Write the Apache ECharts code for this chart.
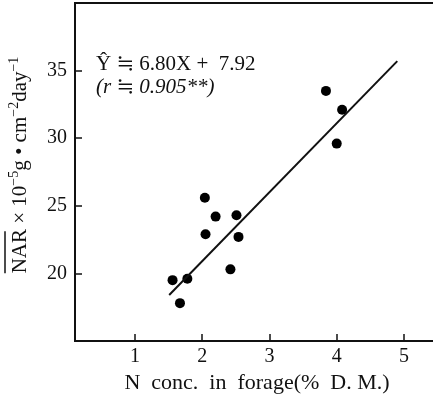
<!DOCTYPE html>
<html>
<head>
<meta charset="utf-8">
<script src="https://cdn.jsdelivr.net/npm/echarts@6/dist/echarts.min.js"></script>
<style>
  html, body { margin: 0; padding: 0; background: #fff; }
  #nar { width: 433px; height: 400px; }
</style>
</head>
<body>
<div id="nar"></div>
<script>
// N concentration in forage (% D.M.) vs mean NAR (x10^-5 g/cm2/day)
var nConc = [1.56, 1.67, 1.78, 2.04, 2.05, 2.20, 2.42, 2.51, 2.54, 3.84, 4.00, 4.08];
var narVal = [19.5, 17.8, 19.6, 25.6, 22.9, 24.2, 20.3, 24.3, 22.7, 33.5, 29.6, 32.1];
// regression line end points as drawn
var fitX = [1.51, 4.90];
var fitY = [18.4, 35.7];
var xTicks = [1, 2, 3, 4, 5];
var yTicks = [20, 25, 30, 35];
var eqLine1 = 'Ŷ ≒ 6.80X +  7.92';
var eqLine2 = '(r ≒ 0.905**)';

var chart = echarts.init(document.getElementById('nar'));
var serif = '"Liberation Serif", "DejaVu Serif", serif';

var points = nConc.map(function (x, i) { return [x, narVal[i]]; });
var fit = fitX.map(function (x, i) { return [x, fitY[i]]; });

var option = {
    animation: false,
    grid: {
        left: 75,
        top: 3,
        right: -6,
        bottom: 59,
        outerBoundsMode: 'none',
        containLabel: false,
        show: true,
        borderColor: '#111',
        borderWidth: 2
    },
    xAxis: {
        type: 'value',
        min: 0.11,
        max: 5.52,
        name: 'N  conc.  in  forage(%  D. M.)',
        nameLocation: 'middle',
        nameGap: 29,
        nameTextStyle: { fontFamily: serif, fontSize: 22, color: '#111' },
        axisLine: { show: false },
        splitLine: { show: false },
        axisTick: {
            inside: true,
            length: 7,
            customValues: xTicks,
            lineStyle: { color: '#111', width: 1.5 }
        },
        axisLabel: {
            customValues: xTicks,
            margin: 6,
            fontFamily: serif,
            fontSize: 20,
            color: '#111'
        }
    },
    yAxis: {
        type: 'value',
        min: 15,
        max: 40,
        name: '{o| }\n{n|NAR × 10}{s|−5}{n|g • cm}{s|−2}{n|day}{s|−1}',
        nameLocation: 'middle',
        nameRotate: 90,
        nameGap: 44,
        nameTextStyle: {
            padding: [0, 0, 0, 14],
            rich: {
                o: { width: 42, height: 1.5, lineHeight: 4, backgroundColor: '#111', align: 'left' },
                n: { fontFamily: serif, fontSize: 21, color: '#111', lineHeight: 24, verticalAlign: 'bottom', align: 'left' },
                s: { fontFamily: serif, fontSize: 14, color: '#111', lineHeight: 24, verticalAlign: 'top', align: 'left' }
            }
        },
        axisLine: { show: false },
        splitLine: { show: false },
        axisTick: {
            inside: true,
            length: 7,
            customValues: yTicks,
            lineStyle: { color: '#111', width: 1.5 }
        },
        axisLabel: {
            customValues: yTicks,
            margin: 8,
            fontFamily: serif,
            fontSize: 20,
            color: '#111'
        }
    },
    graphic: [
        {
            type: 'text',
            left: 96,
            top: 54,
            style: { text: eqLine1, font: '21px ' + serif, fill: '#111' }
        },
        {
            type: 'text',
            left: 96,
            top: 77,
            style: { text: eqLine2, font: 'italic 21px ' + serif, fill: '#111' }
        }
    ],
    series: [
        {
            type: 'scatter',
            data: points,
            symbol: 'circle',
            symbolSize: 10,
            itemStyle: { color: '#000', opacity: 1 }
        },
        {
            type: 'line',
            data: fit,
            showSymbol: false,
            lineStyle: { color: '#111', width: 2 }
        }
    ]
};
chart.setOption(option);
</script>
</body>
</html>
